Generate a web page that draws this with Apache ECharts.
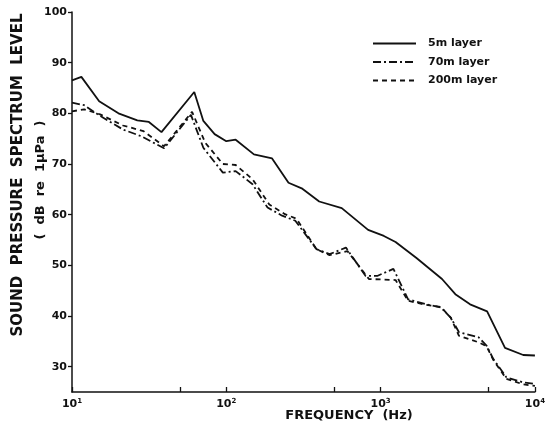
<!DOCTYPE html>
<html>
<head>
<meta charset="utf-8">
<script src="https://cdn.jsdelivr.net/npm/echarts@6/dist/echarts.min.js"></script>
<style>
html,body{margin:0;padding:0;background:#fff;}
#chart{width:548px;height:434px;}
</style>
</head>
<body>
<div id="chart"></div>
<script>
// Frequency (Hz) and level (dB re 1 µPa)
const freq5m  = [10, 11.5, 15, 20, 26.5, 31.5, 38, 62, 71, 84, 100, 115, 151, 198, 253, 308, 400, 560, 830, 1050, 1250, 1700, 2500, 3050, 3800, 4900, 6400, 8400, 10000];
const level5m = [86.5, 87.2, 82.4, 80.0, 78.6, 78.3, 76.3, 84.2, 78.5, 75.9, 74.5, 74.8, 71.9, 71.1, 66.3, 65.2, 62.6, 61.3, 57.0, 55.8, 54.6, 51.5, 47.3, 44.3, 42.3, 40.9, 33.7, 32.3, 32.2];

const freq70m  = [10, 12, 15.2, 21.4, 28, 39.5, 59, 71, 95, 115, 148, 185, 230, 280, 384, 467, 596, 800, 950, 1210, 1507, 1972, 2456, 2845, 3221, 4318, 4870, 5380, 6531, 8400, 10000];
const level70m = [82.1, 81.6, 79.5, 76.8, 75.5, 73.1, 79.7, 73.2, 68.3, 68.6, 66.0, 61.4, 59.8, 58.8, 53.2, 52.2, 53.5, 47.9, 47.9, 49.3, 43.3, 42.3, 41.7, 39.7, 36.8, 35.8, 34.1, 31.5, 27.9, 26.9, 26.6];

const freq200m  = [10, 12, 15.2, 21.4, 29, 39.5, 60, 73, 95, 115, 148, 190, 240, 285, 384, 467, 610, 840, 1250, 1507, 1972, 2456, 2845, 3221, 4318, 4870, 5380, 6531, 8400, 10000];
const level200m = [80.4, 80.8, 79.8, 77.6, 76.5, 73.5, 80.3, 74.2, 70.0, 69.8, 67.0, 62.0, 60.1, 59.2, 53.2, 52.0, 52.8, 47.3, 47.1, 43.0, 42.2, 41.8, 39.7, 36.1, 34.8, 34.0, 31.3, 27.6, 26.5, 26.2];

const seriesNames = ['5m layer', '70m layer', '200m layer'];
const yTickValues = [30, 40, 50, 60, 70, 80, 90, 100];
const xTickValues = [10, 50, 100, 500, 1000, 5000, 10000];

const zip = (xs, ys) => xs.map((x, i) => [x, ys[i]]);
const ink = '#111';
const font = 'DejaVu Sans, sans-serif';

const chart = echarts.init(document.getElementById('chart'));
chart.setOption({
  animation: false,
  backgroundColor: '#fff',
  grid: { left: 72, right: 5, top: 12, bottom: 42 },
  legend: {
    data: seriesNames,
    orient: 'vertical',
    left: 367,
    top: 33,
    itemWidth: 43,
    itemHeight: 10,
    itemGap: 7.5,
    itemStyle: { opacity: 0 },
    textStyle: { color: ink, fontSize: 11, fontWeight: 'bold', fontFamily: font, padding: [0, 0, 0, 7] }
  },
  xAxis: {
    type: 'log',
    logBase: 10,
    min: 10,
    max: 10000,
    splitLine: { show: false },
    axisLine: { lineStyle: { color: ink, width: 1.5 } },
    axisTick: { inside: true, length: 5, lineStyle: { color: ink, width: 1.3 }, customValues: xTickValues },
    axisLabel: {
      margin: 6,
      formatter: v => '{b|10}{s|' + Math.round(Math.log10(v)) + '}',
      rich: {
        b: { fontSize: 11, fontWeight: 'bold', color: ink, fontFamily: font },
        s: { fontSize: 7, fontWeight: 'bold', color: ink, fontFamily: font, verticalAlign: 'top', padding: [0, 0, 6, 0] }
      }
    }
  },
  yAxis: {
    type: 'value',
    min: 25,
    max: 100,
    splitLine: { show: false },
    axisLine: { show: true, lineStyle: { color: ink, width: 1.5 } },
    axisTick: { show: true, length: 4, lineStyle: { color: ink, width: 1.3 }, customValues: yTickValues },
    axisLabel: { customValues: yTickValues, color: ink, fontSize: 11, fontWeight: 'bold', fontFamily: font, margin: 5 }
  },
  graphic: [
    { type: 'text', x: 18, y: 175, rotation: Math.PI / 2,
      style: { text: 'SOUND  PRESSURE  SPECTRUM  LEVEL', font: 'bold 15px DejaVu Sans', fill: ink, align: 'center', verticalAlign: 'middle' } },
    { type: 'text', x: 41, y: 180, rotation: Math.PI / 2,
      style: { text: '(  dB  re  1μPa  )', font: 'bold 13px DejaVu Sans', fill: ink, align: 'center', verticalAlign: 'middle' } },
    { type: 'text', x: 349, y: 416,
      style: { text: 'FREQUENCY  (Hz)', font: 'bold 13px DejaVu Sans', fill: ink, align: 'center', verticalAlign: 'middle' } }
  ],
  series: [
    { name: seriesNames[0], type: 'line', symbol: 'none', showSymbol: false, data: zip(freq5m, level5m),
      lineStyle: { color: ink, width: 1.8, type: 'solid' }, itemStyle: { color: ink } },
    { name: seriesNames[1], type: 'line', symbol: 'none', showSymbol: false, data: zip(freq70m, level70m),
      lineStyle: { color: ink, width: 1.8, type: [8, 3, 2, 3] }, itemStyle: { color: ink } },
    { name: seriesNames[2], type: 'line', symbol: 'none', showSymbol: false, data: zip(freq200m, level200m),
      lineStyle: { color: ink, width: 1.8, type: [5, 4] }, itemStyle: { color: ink } }
  ]
});
</script>
</body>
</html>
